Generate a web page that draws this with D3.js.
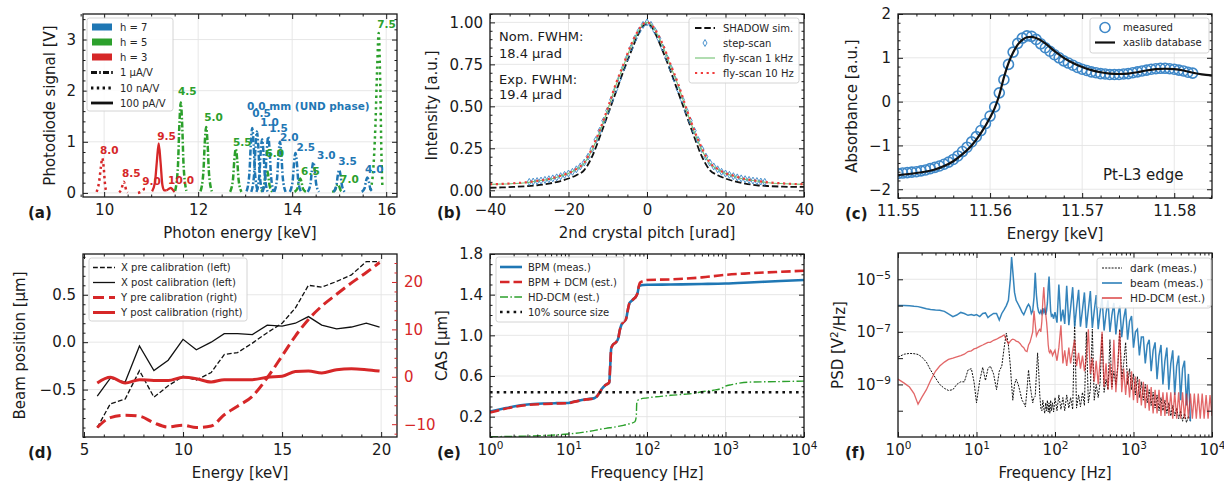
<!DOCTYPE html>
<html>
<head>
<meta charset="utf-8">
<title>DCM commissioning figure</title>
<script src="https://cdn.jsdelivr.net/npm/d3@7"></script>
<style>
  body { margin: 0; background: #fff; }
  svg text { font-family: "DejaVu Sans", sans-serif; }
</style>
</head>
<body>
<script>
// ---------------- data ----------------

// (a) undulator harmonic scans: [photon energy keV, photodiode V], one entry per UND phase
const harmH7 = [
  {phase: '0.0', gain: '1uA', pts: [[13.03,0.03],[13.09,0.38],[13.12,0.95],[13.15,1.27],[13.18,0.95],[13.21,0.38],[13.27,0.03]]},
  {phase: '0.5', gain: '1uA', pts: [[13.13,0.02],[13.19,0.36],[13.22,0.9],[13.25,1.2],[13.28,0.9],[13.31,0.36],[13.37,0.02]]},
  {phase: '1.0', gain: '1uA', pts: [[13.24,0.02],[13.30,0.32],[13.33,0.79],[13.36,1.05],[13.39,0.79],[13.42,0.32],[13.48,0.02]]},
  {phase: '1.5', gain: '1uA', pts: [[13.37,0.02],[13.43,0.33],[13.46,0.83],[13.49,1.1],[13.52,0.83],[13.55,0.33],[13.61,0.02]]},
  {phase: '2.0', gain: '1uA', pts: [[13.62,0.02],[13.68,0.3],[13.71,0.75],[13.74,1.0],[13.77,0.75],[13.80,0.3],[13.86,0.02]]},
  {phase: '2.5', gain: '1uA', pts: [[13.95,0.02],[14.01,0.23],[14.04,0.59],[14.07,0.78],[14.10,0.59],[14.13,0.23],[14.19,0.02]]},
  {phase: '3.0', gain: '1uA', pts: [[14.33,0.02],[14.39,0.18],[14.42,0.45],[14.45,0.6],[14.48,0.45],[14.51,0.18],[14.57,0.02]]},
  {phase: '3.5', gain: '1uA', pts: [[14.88,0.02],[14.94,0.14],[14.97,0.34],[15.0,0.45],[15.03,0.34],[15.06,0.14],[15.12,0.02]]},
  {phase: '4.0', gain: '1uA', pts: [[15.48,0.02],[15.54,0.09],[15.57,0.23],[15.6,0.3],[15.63,0.23],[15.66,0.09],[15.72,0.02]]}
];
const harmH5 = [
  {phase: '4.5', gain: '1uA', pts: [[11.51,0.04],[11.57,0.53],[11.60,1.33],[11.63,1.77],[11.66,1.33],[11.69,0.53],[11.75,0.04]]},
  {phase: '5.0', gain: '1uA', pts: [[12.05,0.03],[12.11,0.39],[12.14,0.97],[12.17,1.29],[12.20,0.97],[12.23,0.39],[12.29,0.03]]},
  {phase: '5.5', gain: '1uA', pts: [[12.68,0.02],[12.74,0.26],[12.77,0.65],[12.8,0.86],[12.83,0.65],[12.86,0.26],[12.92,0.02]]},
  {phase: '6.0', gain: '1uA', pts: [[13.34,0.02],[13.40,0.14],[13.43,0.34],[13.46,0.45],[13.49,0.34],[13.52,0.14],[13.58,0.02]]},
  {phase: '6.5', gain: '1uA', pts: [[14.05,0.02],[14.11,0.08],[14.14,0.21],[14.17,0.28],[14.20,0.21],[14.23,0.08],[14.29,0.02]]},
  {phase: '7.0', gain: '1uA', pts: [[14.85,0.02],[14.91,0.05],[14.94,0.13],[14.97,0.17],[15.0,0.13],[15.03,0.05],[15.09,0.02]]},
  {phase: '7.5', gain: '10nA', pts: [[15.66,0.05],[15.72,0.4],[15.77,1.3],[15.81,2.5],[15.84,3.13],[15.87,2.3],[15.9,0.7],[15.92,0.1]]}
];
const harmH3 = [
  {phase: '8.0', gain: '10nA', pts: [[9.84,0.02],[9.89,0.2],[9.93,0.5],[9.96,0.68],[9.99,0.5],[10.02,0.15],[10.05,0.02]]},
  {phase: '8.5', gain: '10nA', pts: [[10.32,0.01],[10.37,0.08],[10.40,0.18],[10.42,0.22],[10.44,0.17],[10.47,0.05],[10.5,0.01]]},
  {phase: '9.0', gain: '10nA', pts: [[10.72,0.0],[10.78,0.02],[10.83,0.06],[10.87,0.08],[10.9,0.04]]},
  {phase: '9.5', gain: '100pA', pts: [[11.02,0.03],[11.08,0.2],[11.12,0.6],[11.16,0.97],[11.2,0.6],[11.24,0.15],[11.28,0.05],[11.33,0.05]]},
  {phase: '10.0', gain: '100pA', pts: [[11.33,0.05],[11.38,0.08],[11.42,0.1],[11.46,0.06],[11.5,0.02]]}
];
// label anchors [keV, V] of the UND phase annotations
const labelsH7 = [['0.0 mm (UND phase)',13.04,1.71],['0.5',13.15,1.57],['1.0',13.32,1.39],['1.5',13.51,1.27],['2.0',13.74,1.1],
  ['2.5',14.09,0.9],['3.0',14.53,0.75],['3.5',14.98,0.63],['4.0',15.55,0.47]];
const labelsH5 = [['4.5',11.57,2.0],['5.0',12.13,1.49],['5.5',12.74,1.0],['6.0',13.43,0.78],['6.5',14.19,0.42],['7.0',15.02,0.27],['7.5',15.81,3.31]];
const labelsH3 = [['8.0',9.91,0.84],['8.5',10.38,0.39],['9.0',10.81,0.24],['9.5',11.13,1.12],['10.0',11.36,0.25]];

// (b) rocking curve of the 2nd crystal
const pitchGrid = [-40,-37,-34,-31,-28,-25,-22,-20,-18,-16,-14,-12,-10,-8,-6,-4,-2,-1,0,1,2,4,6,8,10,12,14,16,18,20,22,25,28,31,34,37,40];
const shadowSim = [0.015,0.017,0.02,0.024,0.03,0.04,0.055,0.07,0.09,0.12,0.2,0.32,0.45,0.58,0.71,0.83,0.94,0.98,0.99,0.98,0.94,0.83,0.71,0.58,0.45,0.32,0.2,0.12,0.09,0.07,0.055,0.04,0.03,0.025,0.022,0.02,0.02];
const fly1kHz = [0.035,0.037,0.04,0.045,0.055,0.065,0.085,0.1,0.125,0.16,0.24,0.35,0.48,0.62,0.74,0.86,0.955,0.99,1.0,0.99,0.955,0.86,0.74,0.62,0.48,0.35,0.24,0.16,0.125,0.1,0.085,0.065,0.055,0.045,0.04,0.037,0.035];
const fly10Hz = [0.036,0.038,0.042,0.047,0.056,0.067,0.087,0.102,0.127,0.165,0.25,0.36,0.49,0.63,0.75,0.87,0.96,0.99,1.0,0.99,0.96,0.87,0.75,0.63,0.49,0.36,0.25,0.165,0.127,0.102,0.087,0.067,0.056,0.047,0.042,0.038,0.036];
const stepPitch = [-30,-29,-28,-27,-26,-25,-24,-23,-22,-21,-20,-19,-18,-17,-16,-15,-14,-13,-12,-11,-10,-9,-8,-7,-6,-5,-4,-3,-2,-1,0,
  1,2,3,4,5,6,7,8,9,10,11,12,13,14,15,16,17,18,19,20,21,22,23,24,25,26,27,28,29,30];
const stepScan = [0.05,0.052,0.055,0.058,0.062,0.066,0.071,0.077,0.084,0.092,0.1,0.11,0.125,0.142,0.165,0.2,0.245,0.3,0.355,0.415,0.475,0.54,0.6,0.665,0.73,0.79,0.85,0.905,0.95,0.985,1.0,
  0.985,0.95,0.905,0.85,0.79,0.73,0.665,0.6,0.54,0.475,0.415,0.355,0.3,0.245,0.2,0.165,0.142,0.125,0.11,0.1,0.092,0.084,0.077,0.071,0.066,0.062,0.058,0.055,0.052,0.05];

// (c) Pt-L3 edge
const xasE = [11.550,11.552,11.554,11.555,11.556,11.557,11.558,11.559,11.560,11.5605,11.561,11.5615,11.562,11.5625,11.563,11.5635,11.564,11.5645,11.565,
  11.566,11.567,11.568,11.569,11.570,11.571,11.572,11.573,11.574,11.575,11.576,11.577,11.578,11.579,11.580,11.581,11.582,11.583,11.5841];
const xaslib = [-1.68,-1.63,-1.55,-1.47,-1.36,-1.2,-1.0,-0.72,-0.36,-0.15,0.15,0.55,0.88,1.12,1.3,1.41,1.47,1.48,1.45,
  1.33,1.15,1.0,0.88,0.79,0.72,0.67,0.64,0.63,0.64,0.67,0.71,0.74,0.75,0.74,0.71,0.66,0.62,0.6];
const measE = [11.5500,11.5505,11.5510,11.5515,11.5520,11.5525,11.5530,11.5535,11.5540,11.5545,11.5550,11.5555,11.5560,11.5565,11.5570,11.5575,
  11.5580,11.5585,11.5590,11.5595,11.5600,11.5605,11.5610,11.5615,11.5620,11.5625,11.5630,11.5635,11.5640,11.5645,11.5650,11.5655,
  11.5660,11.5665,11.5670,11.5675,11.5680,11.5685,11.5690,11.5695,11.5700,11.5705,11.5710,11.5715,11.5720,11.5725,11.5730,11.5735,
  11.5740,11.5745,11.5750,11.5755,11.5760,11.5765,11.5770,11.5775,11.5780,11.5785,11.5790,11.5795,11.5800,11.5805,11.5810,11.5815,11.5820];
const measAbs = [-1.64,-1.63,-1.62,-1.61,-1.6,-1.58,-1.56,-1.53,-1.5,-1.47,-1.43,-1.38,-1.32,-1.24,-1.14,-1.04,
  -0.92,-0.8,-0.66,-0.5,-0.33,-0.12,0.2,0.5,0.85,1.13,1.33,1.45,1.5,1.49,1.42,1.32,
  1.23,1.15,1.07,1.0,0.93,0.88,0.83,0.78,0.74,0.71,0.68,0.66,0.64,0.63,0.62,0.62,
  0.62,0.63,0.64,0.66,0.68,0.7,0.72,0.74,0.75,0.76,0.76,0.75,0.74,0.72,0.7,0.67,0.65];

// (d) beam position vs energy
const calEnergy = [5.67,6.33,7.08,7.8,8.53,9.25,10.0,10.67,11.42,12.08,12.75,13.5,14.25,15.0,15.67,16.33,17.0,17.75,18.5,19.25,19.92];
const xPre  = [-0.9,-0.65,-0.6,-0.3,-0.58,-0.46,-0.36,-0.4,-0.32,-0.13,-0.11,-0.01,0.1,0.2,0.36,0.6,0.58,0.64,0.71,0.85,0.85];
const xPost = [-0.57,-0.38,-0.42,-0.04,-0.3,-0.19,0.03,-0.08,0.0,0.09,0.09,0.08,0.18,0.17,0.2,0.27,0.18,0.14,0.16,0.2,0.16];
const yPre  = [-10.7,-8.6,-8.1,-8.3,-9.7,-10.6,-10.2,-10.7,-10.4,-8.0,-6.2,-4.1,-0.2,4.4,8.6,12.1,14.9,17.4,19.8,22.0,24.1];
const yPost = [-1.3,-0.1,-1.3,-0.6,-0.8,-0.8,-0.1,-0.4,-1.1,-0.6,-0.6,-0.6,-0.1,0.1,1.1,1.2,0.8,1.5,1.7,1.5,1.2];

// (e) cumulative amplitude spectra
const casFreq = [1,1.5,2,3,5,7,10,12,14,17,21,23,25,27,29,31,33,34,35,37,40,43,45,47,50,54,57,60,64,68,72,76,79,82,90,100,200,500,1000,2000,5000,10000];
const casBPM = [0.25,0.28,0.3,0.32,0.33,0.333,0.335,0.35,0.36,0.372,0.38,0.4,0.44,0.48,0.505,0.52,0.535,0.7,0.87,0.91,0.93,0.97,1.05,1.1,1.13,
  1.16,1.25,1.32,1.34,1.36,1.38,1.42,1.48,1.49,1.495,1.497,1.5,1.505,1.51,1.52,1.535,1.545];
const casBPMDCM = [0.24,0.275,0.295,0.315,0.325,0.33,0.333,0.348,0.358,0.37,0.378,0.4,0.44,0.48,0.505,0.52,0.535,0.7,0.87,0.91,0.93,0.97,1.05,1.1,1.13,
  1.16,1.25,1.32,1.34,1.36,1.38,1.42,1.49,1.52,1.535,1.545,1.55,1.57,1.595,1.61,1.625,1.635];
const hdFreq = [1,2,5,10,15,20,25,30,40,50,60,70,73,74,76,80,100,150,200,300,400,500,700,900,1000,1200,1500,2000,5000,10000];
const casHD = [0.003,0.006,0.015,0.03,0.045,0.06,0.075,0.085,0.1,0.115,0.13,0.15,0.2,0.33,0.36,0.37,0.385,0.4,0.41,0.42,0.43,0.445,0.46,0.48,0.5,0.515,0.53,0.54,0.545,0.55];
const sourceSize10 = 0.44;

// (f) power spectral densities, log10(PSD / V^2 Hz^-1)
const psdFreq = [1,1.2,1.4,1.6,1.8,2,2.3,2.6,3,3.4,3.9,4.4,5,5.6,6.3,7,7.8,8.6,9.3,10,11,12,13,14,15,16.5,18,19.5,21,22.5,24,25.5,27,28,29,30.5,
  32,34,36,38,40,42,44,46,48,50,52,54,56,58,60,62,64,66,68,70,72,74,76,78,80,82,84,86,88,90,93,96,
  100,106,112,119,126,133,141,150,158,168,178,188,200,211,224,237,251,266,282,299,316,335,355,376,398,422,447,473,501,531,562,596,631,668,
  708,750,794,841,891,944,1000,1059,1122,1189,1259,1334,1413,1496,1585,1679,1778,1884,1995,2113,2239,2371,2512,2661,2818,2985,3162,3350,
  3548,3758,3981,4217,4467,4732,5012,5309,5623,5957,6310,6683,7079,7499,7943,8414,8913,9441,10000];
const darkLow = [-7.96,-7.85,-7.82,-7.83,-7.86,-7.95,-8.15,-8.45,-8.75,-9.0,-9.15,-9.23,-9.2,-9.0,-8.9,-8.9,-8.45,-8.4,-8.9,-9.7,-8.85,-8.35,-8.85,-8.4,
  -8.3,-8.6,-9.2,-8.5,-8.3,-7.6,-7.05,-7.5,-8.3,-9.0,-9.6,-9.0,-8.8,-9.0,-9.3,-9.6,-9.7,-9.85,-9.2,-8.45,-9.0,-9.35,-9.7,-9.5,
  -9.45,-8.6,-7.8,-8.5,-9.4,-9.9,-10.0,-9.6,-9.9,-10.1,-9.7,-10.0,-9.6,-10.05,-9.7,-10.1,-9.6,-10.0,-9.7,-10.05];
const darkHigh = [-9.5,-10.0,-9.4,-9.95,-9.5,-10.0,-9.4,-9.9,-9.5,-9.95,-6.6,-9.9,-9.4,-9.85,-9.3,-9.8,-7.0,-9.7,-9.2,-6.9,
  -9.6,-9.0,-9.5,-8.9,-7.1,-9.3,-8.8,-9.2,-7.3,-9.1,-8.5,-9.0,-8.3,-6.9,-8.8,-8.2,-7.4,-9.0,-8.4,-9.2,
  -8.6,-9.4,-8.7,-9.5,-8.9,-9.6,-9.0,-9.7,-9.2,-9.8,-9.3,-9.9,-9.4,-10.0,-9.5,-10.0,-9.6,-10.1,-9.7,-10.2,
  -9.8,-10.2,-9.9,-10.3,-10.0,-10.4,-10.1,-10.45,-10.2,-10.4,null,null,null,null,null,null,null,null,null,null,null];
const beamLow = [-6.0,-6.0,-6.01,-6.03,-6.04,-6.07,-6.12,-6.15,-6.17,-6.18,-6.22,-6.32,-6.42,-6.36,-6.26,-6.3,-6.37,-6.34,-6.38,-6.34,-6.42,-6.3,-6.28,-6.46,
  -6.38,-6.3,-6.3,-6.55,-6.3,-6.15,-6.0,-5.8,-5.0,-4.15,-4.7,-5.5,-5.8,-5.95,-6.1,-6.25,-6.35,-6.2,-6.05,-5.95,-6.05,-6.3,-6.2,-5.7,
  -4.75,-5.6,-6.05,-6.25,-6.3,-6.2,-6.3,-6.1,-6.25,-6.15,-6.35,-6.2,-5.9,-5.3,-4.9,-5.6,-6.2,-6.4,-6.35,-6.5];
const beamHigh = [-6.25,-6.65,-5.2,-6.6,-6.15,-6.7,-5.25,-6.75,-6.1,-5.3,-6.8,-6.1,-5.4,-6.8,-6.15,-5.5,-6.85,-6.15,-5.45,-6.85,
  -6.2,-5.6,-6.9,-6.25,-5.7,-6.95,-6.3,-5.8,-7.0,-6.35,-5.9,-7.1,-6.4,-6.0,-7.2,-6.5,-6.1,-7.3,-6.6,-6.4,
  -7.6,-7.0,-6.9,-7.9,-7.2,-7.2,-8.2,-7.5,-7.3,-8.5,-7.7,-7.4,-8.8,-7.9,-7.5,-9.0,-8.1,-7.6,-9.2,-8.2,
  -7.7,-9.4,-8.3,-7.9,-9.6,-8.4,-8.1,-9.8,-8.6,-10.4,null,null,null,null,null,null,null,null,null,null,null];
const hdLow = [-8.8,-8.95,-9.1,-9.35,-9.75,-9.5,-9.2,-8.85,-8.5,-8.3,-8.15,-8.05,-8.0,-7.95,-7.9,-7.85,-7.75,-7.72,-7.65,-7.62,-7.55,-7.5,-7.45,-7.4,
  -7.4,-7.32,-7.28,-7.22,-7.17,-7.12,-7.3,-7.45,-7.35,-7.3,-7.28,-7.3,-7.35,-7.38,-7.45,-7.55,-7.6,-7.72,-7.75,-7.5,-7.4,-7.2,-7.0,-6.2,
  -6.7,-7.15,-7.05,-6.95,-6.9,-7.0,-6.6,-5.8,-5.3,-5.9,-6.3,-6.6,-7.0,-7.5,-7.75,-7.8,-7.7,-7.75,-7.9,-7.8];
const hdHigh = [-7.7,-8.1,-7.6,-6.75,-8.2,-7.7,-8.3,-7.6,-8.2,-7.7,-7.3,-8.3,-7.8,-8.4,-7.9,-8.5,-8.0,-6.9,-8.6,-8.0,
  -8.9,-8.1,-9.0,-8.1,-7.0,-9.1,-8.2,-9.2,-8.2,-9.2,-7.3,-9.3,-8.3,-6.95,-9.3,-8.4,-9.4,-8.5,-9.5,-8.5,
  -9.6,-8.7,-9.7,-8.8,-9.8,-8.9,-9.9,-9.0,-10.0,-9.1,-10.1,-9.2,-10.1,-9.2,-10.2,-9.3,-10.2,-9.3,-10.2,-9.3,
  -10.3,-9.3,-10.3,-9.3,-10.3,-9.3,-10.3,-9.35,-10.3,-9.35,-10.3,-9.35,-10.3,-9.35,-10.3,-9.35,-10.3,-9.4,-10.3,-9.4,-10.2];

// ---------------- drawing ----------------
const FONT = '"DejaVu Sans", sans-serif';
const BLUE = '#1f77b4', GREEN = '#2ca02c', RED = '#d62728', INK = '#1a1a1a';
const svg = d3.select('body').append('svg').attr('width', 1224).attr('height', 483);
let clipN = 0;

function minor(a, b, step, majors) {
  return d3.range(a, b + step / 2, step).map(v => +v.toFixed(6))
    .filter(v => !majors.some(m => Math.abs(m - v) < step / 10));
}
function logMinor() {
  const out = [];
  [1, 10, 100, 1000].forEach(p => d3.range(2, 10).forEach(k => out.push(k * p)));
  return out;
}
function supLabels(a) {
  a.selectAll('.tick text').each(function(d) {
    const t = d3.select(this), e = Math.round(Math.log10(d));
    t.text(null);
    t.append('tspan').text('10');
    t.append('tspan').attr('dy', '-0.5em').attr('font-size', '10.5px').text(d3.format('d')(e));
  });
}

function panel(box) {
  const g = svg.append('g');
  const id = 'clip' + (clipN++);
  g.append('clipPath').attr('id', id).append('rect')
    .attr('x', box.l).attr('y', box.t).attr('width', box.r - box.l).attr('height', box.b - box.t);
  return {
    grid: g.append('g'),
    data: g.append('g').attr('clip-path', `url(#${id})`),
    top: g.append('g')
  };
}

function axis(g, gen, tr, color) {
  const a = g.append('g').attr('transform', tr).call(gen);
  a.select('.domain').remove();
  a.attr('font-size', 15).attr('font-family', FONT);
  a.selectAll('line').attr('stroke', color).attr('stroke-width', 1);
  a.selectAll('text').attr('fill', color);
  return a;
}

function frame(p, box, x, y, o) {
  p.grid.selectAll('line.gx').data(o.xGrid || o.xMajor).join('line').attr('class', 'gx')
    .attr('x1', d => x(d)).attr('x2', d => x(d)).attr('y1', box.t).attr('y2', box.b)
    .attr('stroke', '#e4e4e4').attr('stroke-width', 0.9);
  p.grid.selectAll('line.gy').data(o.yGrid || o.yMajor).join('line').attr('class', 'gy')
    .attr('y1', d => y(d)).attr('y2', d => y(d)).attr('x1', box.l).attr('x2', box.r)
    .attr('stroke', '#e4e4e4').attr('stroke-width', 0.9);
  const g = p.top;
  const bx = axis(g, d3.axisBottom(x).tickValues(o.xMajor).tickSize(-5).tickPadding(7).tickFormat(o.xFmt || ''), `translate(0,${box.b})`, INK);
  axis(g, d3.axisBottom(x).tickValues(o.xMinor).tickSize(-2.5).tickFormat(''), `translate(0,${box.b})`, INK);
  axis(g, d3.axisTop(x).tickValues(o.xMajor).tickSize(-5).tickFormat(''), `translate(0,${box.t})`, INK);
  axis(g, d3.axisTop(x).tickValues(o.xMinor).tickSize(-2.5).tickFormat(''), `translate(0,${box.t})`, INK);
  const ly = axis(g, d3.axisLeft(y).tickValues(o.yMajor).tickSize(-5).tickPadding(7).tickFormat(o.yFmt || ''), `translate(${box.l},0)`, INK);
  axis(g, d3.axisLeft(y).tickValues(o.yMinor).tickSize(o.yMinorLen || -2.5).tickFormat(''), `translate(${box.l},0)`, INK);
  if (!o.noRight) {
    axis(g, d3.axisRight(y).tickValues(o.yMajor).tickSize(-5).tickFormat(''), `translate(${box.r},0)`, INK);
    axis(g, d3.axisRight(y).tickValues(o.yMinor).tickSize(o.yMinorLen || -2.5).tickFormat(''), `translate(${box.r},0)`, INK);
  }
  if (o.xSup) supLabels(bx);
  if (o.ySup) supLabels(ly);
  g.append('rect').attr('x', box.l).attr('y', box.t).attr('width', box.r - box.l).attr('height', box.b - box.t)
    .attr('fill', 'none').attr('stroke', INK).attr('stroke-width', 1.3);
}

function titles(box, xt, yt, yx, letter) {
  const cx = (box.l + box.r) / 2, cy = (box.t + box.b) / 2;
  svg.append('text').attr('x', cx).attr('y', box.b + 41).attr('text-anchor', 'middle')
    .attr('font-size', 15).attr('fill', INK).text(xt);
  const ty = svg.append('text').attr('transform', `translate(${yx},${cy}) rotate(-90)`).attr('text-anchor', 'middle')
    .attr('dominant-baseline', 'central').attr('font-size', 15).attr('fill', INK);
  if (Array.isArray(yt)) {
    ty.append('tspan').text(yt[0]);
    ty.append('tspan').attr('dy', '-0.4em').attr('font-size', '10.5px').text(yt[1]);
    ty.append('tspan').attr('dy', '0.4em').text(yt[2]);
  } else ty.text(yt);
  svg.append('text').attr('x', letter[0]).attr('y', box.b + 16).attr('dominant-baseline', 'central')
    .attr('font-size', 15).attr('font-weight', 'bold').attr('fill', INK).text(letter[1]);
}

function legendBox(x, y, w, h) {
  svg.append('rect').attr('x', x).attr('y', y).attr('width', w).attr('height', h).attr('rx', 2.5)
    .attr('fill', '#fff').attr('fill-opacity', 0.85).attr('stroke', '#cfcfcf').attr('stroke-width', 0.9);
}
function legendText(x, y, t, size) {
  svg.append('text').attr('x', x).attr('y', y).attr('dominant-baseline', 'central')
    .attr('font-size', size || 10).attr('fill', '#262626').text(t);
}
function legendLine(x1, x2, y, color, width, dash) {
  svg.append('line').attr('x1', x1).attr('x2', x2).attr('y1', y).attr('y2', y)
    .attr('stroke', color).attr('stroke-width', width).attr('stroke-dasharray', dash || null);
}

const gainDash = {'1uA': '6,2.2,1.6,2.2', '10nA': '2.4,3.4', '100pA': null};

// ---------- (a) ----------
const boxA = {l: 83, t: 14, r: 397, b: 197};
const xA = d3.scaleLinear().domain([9.55, 16.23]).range([boxA.l, boxA.r]);
const yA = d3.scaleLinear().domain([-0.08, 3.5]).range([boxA.b, boxA.t]);
const pA = panel(boxA);
frame(pA, boxA, xA, yA, {
  xMajor: [10, 12, 14, 16], xMinor: minor(9.5, 16, 0.5, [10, 12, 14, 16]), xFmt: d3.format('d'),
  yMajor: [0, 1, 2, 3], yMinor: minor(0, 3.4, 0.2, [0, 1, 2, 3]), yFmt: d3.format('d')
});
const lineA = d3.line().x(d => xA(d[0])).y(d => yA(d[1])).curve(d3.curveMonotoneX);
[[harmH3, RED], [harmH5, GREEN], [harmH7, BLUE]].forEach(([set, col]) => {
  pA.data.selectAll(null).data(set).join('path')
    .attr('d', d => lineA(d.pts)).attr('fill', 'none').attr('stroke', col)
    .attr('stroke-width', d => d.gain === '100pA' ? 2.3 : 2.5)
    .attr('stroke-dasharray', d => gainDash[d.gain]);
});
[[labelsH3, RED], [labelsH5, GREEN], [labelsH7, BLUE]].forEach(([set, col]) => {
  svg.selectAll(null).data(set).join('text')
    .attr('x', d => xA(d[1])).attr('y', d => yA(d[2])).attr('dominant-baseline', 'central')
    .attr('font-size', 10.5).attr('font-weight', 'bold').attr('fill', col).text(d => d[0]);
});
titles(boxA, 'Photon energy [keV]', 'Photodiode signal [V]', 50, [28, '(a)']);
legendBox(87, 18, 86, 93);
[[BLUE, 'h = 7', 27], [GREEN, 'h = 5', 42], [RED, 'h = 3', 57]].forEach(([c, t, yy]) => {
  svg.append('rect').attr('x', 92).attr('y', yy - 3.5).attr('width', 20).attr('height', 7).attr('fill', c);
  legendText(120, yy, t);
});
[['1uA', '1 µA/V', 72.5], ['10nA', '10 nA/V', 88], ['100pA', '100 pA/V', 103]].forEach(([k, t, yy]) => {
  legendLine(91, 113, yy, '#111', 2.8, gainDash[k]);
  legendText(120, yy, t);
});

// ---------- (b) ----------
const boxB = {l: 490, t: 14, r: 804, b: 197};
const xB = d3.scaleLinear().domain([-40, 40]).range([boxB.l, boxB.r]);
const yB = d3.scaleLinear().domain([-0.04, 1.05]).range([boxB.b, boxB.t]);
const pB = panel(boxB);
frame(pB, boxB, xB, yB, {
  xMajor: [-40, -20, 0, 20, 40], xMinor: minor(-40, 40, 5, [-40, -20, 0, 20, 40]), xFmt: d3.format('d'),
  yMajor: [0, 0.25, 0.5, 0.75, 1.0], yMinor: minor(0, 1.05, 0.05, [0, 0.25, 0.5, 0.75, 1.0]), yFmt: d3.format('.2f')
});
const lineB = d3.line().x(d => xB(d[0])).y(d => yB(d[1])).curve(d3.curveMonotoneX);
pB.data.append('path').attr('d', lineB(d3.zip(pitchGrid, shadowSim))).attr('fill', 'none')
  .attr('stroke', '#111').attr('stroke-width', 1.8).attr('stroke-dasharray', '6.5,2.8');
pB.data.selectAll(null).data(d3.zip(stepPitch, stepScan)).join('path')
  .attr('transform', d => `translate(${xB(d[0])},${yB(d[1])})`)
  .attr('d', d3.symbol(d3.symbolDiamond, 14)).attr('fill', 'none').attr('stroke', '#3a88c8').attr('stroke-width', 0.9);
pB.data.append('path').attr('d', lineB(d3.zip(pitchGrid, fly1kHz))).attr('fill', 'none')
  .attr('stroke', '#72c272').attr('stroke-width', 1.1);
pB.data.append('path').attr('d', lineB(d3.zip(pitchGrid, fly10Hz))).attr('fill', 'none')
  .attr('stroke', '#f03c3c').attr('stroke-width', 2.2).attr('stroke-dasharray', '2.2,3.6');
[['Nom. FWHM:', 36], ['18.4 µrad', 53], ['Exp. FWHM:', 79], ['19.4 µrad', 94]].forEach(([t, yy]) => {
  svg.append('text').attr('x', 499).attr('y', yy).attr('dominant-baseline', 'central')
    .attr('font-size', 13).attr('fill', INK).text(t);
});
titles(boxB, '2nd crystal pitch [urad]', 'Intensity [a.u.]', 432, [437, '(b)']);
legendBox(689, 18, 110, 65);
legendLine(695, 715, 28, '#111', 1.8, '6.5,2.8'); legendText(723, 28, 'SHADOW sim.');
svg.append('path').attr('transform', 'translate(705,43)').attr('d', d3.symbol(d3.symbolDiamond, 14))
  .attr('fill', 'none').attr('stroke', '#3a88c8').attr('stroke-width', 0.9);
legendText(723, 43, 'step-scan');
legendLine(695, 715, 58, '#72c272', 1.1); legendText(723, 58, 'fly-scan 1 kHz');
legendLine(695, 715, 73, '#f03c3c', 2.2, '2.2,3.6'); legendText(723, 73, 'fly-scan 10 Hz');

// ---------- (c) ----------
const boxC = {l: 898, t: 14, r: 1212, b: 198};
const xC = d3.scaleLinear().domain([11.55, 11.5841]).range([boxC.l, boxC.r]);
const yC = d3.scaleLinear().domain([-2.2, 2.0]).range([boxC.b, boxC.t]);
const pC = panel(boxC);
const cMaj = [11.55, 11.56, 11.57, 11.58];
frame(pC, boxC, xC, yC, {
  xMajor: cMaj, xMinor: minor(11.55, 11.584, 0.002, cMaj), xFmt: d3.format('.2f'),
  yMajor: [-2, -1, 0, 1, 2], yMinor: minor(-2.2, 2, 0.2, [-2, -1, 0, 1, 2]), yFmt: d3.format('d')
});
pC.data.selectAll(null).data(d3.zip(measE, measAbs)).join('circle')
  .attr('cx', d => xC(d[0])).attr('cy', d => yC(d[1])).attr('r', 5)
  .attr('fill', 'none').attr('stroke', '#3f88c8').attr('stroke-width', 1.6);
pC.data.append('path')
  .attr('d', d3.line().x(d => xC(d[0])).y(d => yC(d[1])).curve(d3.curveMonotoneX)(d3.zip(xasE, xaslib)))
  .attr('fill', 'none').attr('stroke', '#111').attr('stroke-width', 2.2);
svg.append('text').attr('x', 1103).attr('y', 175).attr('dominant-baseline', 'central')
  .attr('font-size', 15).attr('fill', INK).text('Pt-L3 edge');
titles(boxC, 'Energy [keV]', 'Absorbance [a.u.]', 852, [845, '(c)']);
legendBox(1090, 18, 119, 35);
svg.append('circle').attr('cx', 1105).attr('cy', 27.5).attr('r', 5).attr('fill', 'none')
  .attr('stroke', '#3f88c8').attr('stroke-width', 1.6);
legendText(1123, 27.5, 'measured');
legendLine(1095, 1115, 42.5, '#111', 2.2); legendText(1123, 42.5, 'xaslib database');

// ---------- (d) ----------
const boxD = {l: 83, t: 254, r: 397, b: 437};
const xD = d3.scaleLinear().domain([4.95, 20.8]).range([boxD.l, boxD.r]);
const yD = d3.scaleLinear().domain([-1.0, 0.93]).range([boxD.b, boxD.t]);
const yD2 = d3.scaleLinear().domain([-12.7, 25.9]).range([boxD.b, boxD.t]);
const pD = panel(boxD);
frame(pD, boxD, xD, yD, {
  xMajor: [5, 10, 15, 20], xMinor: minor(5, 20, 1, [5, 10, 15, 20]), xFmt: d3.format('d'),
  yMajor: [-0.5, 0, 0.5], yMinor: minor(-1.0, 0.9, 0.1, [-0.5, 0, 0.5]), yFmt: d3.format('.1f'), noRight: true
});
axis(pD.top, d3.axisRight(yD2).tickValues([-10, 0, 10, 20]).tickSize(-5).tickPadding(7).tickFormat(d3.format('d')),
  `translate(${boxD.r},0)`, RED);
axis(pD.top, d3.axisRight(yD2).tickValues(minor(-12, 24, 2, [-10, 0, 10, 20])).tickSize(-2.5).tickFormat(''),
  `translate(${boxD.r},0)`, RED);
const lineDL = d3.line().x(d => xD(d[0])).y(d => yD(d[1]));
const lineDR = d3.line().x(d => xD(d[0])).y(d => yD2(d[1])).curve(d3.curveMonotoneX);
pD.data.append('path').attr('d', lineDL(d3.zip(calEnergy, xPre))).attr('fill', 'none')
  .attr('stroke', '#111').attr('stroke-width', 1.3).attr('stroke-dasharray', '4.8,2.2');
pD.data.append('path').attr('d', lineDL(d3.zip(calEnergy, xPost))).attr('fill', 'none')
  .attr('stroke', '#111').attr('stroke-width', 1.3);
pD.data.append('path').attr('d', lineDR(d3.zip(calEnergy, yPre))).attr('fill', 'none')
  .attr('stroke', RED).attr('stroke-width', 3).attr('stroke-dasharray', '11,5');
pD.data.append('path').attr('d', lineDR(d3.zip(calEnergy, yPost))).attr('fill', 'none')
  .attr('stroke', RED).attr('stroke-width', 3);
titles(boxD, 'Energy [keV]', 'Beam position [µm]', 20, [28, '(d)']);
legendBox(89, 258, 158, 63);
legendLine(93, 115, 267.5, '#111', 1.3, '4.8,2.2'); legendText(121, 267.5, 'X pre calibration (left)');
legendLine(93, 115, 282.5, '#111', 1.3); legendText(121, 282.5, 'X post calibration (left)');
legendLine(93, 115, 297.5, RED, 3, '11,5'); legendText(121, 297.5, 'Y pre calibration (right)');
legendLine(93, 115, 312.5, RED, 3); legendText(121, 312.5, 'Y post calibration (right)');

// ---------- (e) ----------
const boxE = {l: 490, t: 254, r: 804, b: 437};
const xE = d3.scaleLog().domain([1, 1e4]).range([boxE.l, boxE.r]);
const yE = d3.scaleLinear().domain([0, 1.8]).range([boxE.b, boxE.t]);
const pE = panel(boxE);
const eMaj = [0.2, 0.6, 1.0, 1.4, 1.8];
frame(pE, boxE, xE, yE, {
  xMajor: [1, 10, 100, 1000, 10000], xMinor: logMinor(), xFmt: d => d, xSup: true,
  yMajor: eMaj, yMinor: minor(0, 1.8, 0.1, eMaj), yFmt: d3.format('.1f')
});
const lineE = d3.line().x(d => xE(d[0])).y(d => yE(d[1])).curve(d3.curveMonotoneX);
pE.data.append('path').attr('d', lineE(d3.zip(casFreq, casBPM))).attr('fill', 'none')
  .attr('stroke', BLUE).attr('stroke-width', 2.6);
pE.data.append('path').attr('d', lineE(d3.zip(casFreq, casBPMDCM))).attr('fill', 'none')
  .attr('stroke', RED).attr('stroke-width', 2.6).attr('stroke-dasharray', '9.5,4');
pE.data.append('path').attr('d', lineE(d3.zip(hdFreq, casHD))).attr('fill', 'none')
  .attr('stroke', GREEN).attr('stroke-width', 1.4).attr('stroke-dasharray', '8,2.4,1.5,2.4');
pE.data.append('line').attr('x1', xE(1)).attr('x2', xE(1e4)).attr('y1', yE(sourceSize10)).attr('y2', yE(sourceSize10))
  .attr('stroke', '#111').attr('stroke-width', 2.6).attr('stroke-dasharray', '2.6,4.2');
titles(boxE, 'Frequency [Hz]', 'CAS [µm]', 442, [437, '(e)']);
legendBox(496, 257, 128, 65);
legendLine(500, 522, 267, BLUE, 2.6); legendText(528, 267, 'BPM (meas.)');
legendLine(500, 522, 282, RED, 2.6, '9.5,4'); legendText(528, 282, 'BPM + DCM (est.)');
legendLine(500, 522, 297, GREEN, 1.4, '8,2.4,1.5,2.4'); legendText(528, 297, 'HD-DCM (est.)');
legendLine(500, 522, 312, '#111', 2.6, '2.6,4.2'); legendText(528, 312, '10% source size');

// ---------- (f) ----------
const boxF = {l: 898, t: 253, r: 1212, b: 437};
const xF = d3.scaleLog().domain([1, 1e4]).range([boxF.l, boxF.r]);
const yF = d3.scaleLog().domain([1e-11, 1e-4]).range([boxF.b, boxF.t]);
const pF = panel(boxF);
frame(pF, boxF, xF, yF, {
  xMajor: [1, 10, 100, 1000, 10000], xMinor: logMinor(), xFmt: d => d, xSup: true,
  yMajor: [1e-9, 1e-7, 1e-5], yMinor: [1e-10, 1e-8, 1e-6], yMinorLen: -5, yFmt: d => d, ySup: true
});
const lineF = d3.line().defined(d => d[1] != null).x(d => xF(d[0])).y(d => yF(Math.pow(10, d[1])));
pF.data.append('path').attr('d', lineF(d3.zip(psdFreq, darkLow.concat(darkHigh)))).attr('fill', 'none')
  .attr('stroke', '#111').attr('stroke-width', 1.0).attr('stroke-dasharray', '2,1.2');
pF.data.append('path').attr('d', lineF(d3.zip(psdFreq, beamLow.concat(beamHigh)))).attr('fill', 'none')
  .attr('stroke', BLUE).attr('stroke-width', 1.5).attr('stroke-opacity', 0.9);
pF.data.append('path').attr('d', lineF(d3.zip(psdFreq, hdLow.concat(hdHigh)))).attr('fill', 'none')
  .attr('stroke', RED).attr('stroke-width', 1.3).attr('stroke-opacity', 0.7);
titles(boxF, 'Frequency [Hz]', ['PSD [V', '2', '/Hz]'], 838, [845, '(f)']);
legendBox(1097, 258, 114, 50);
legendLine(1102, 1122, 268, '#111', 1.0, '2,1.2'); legendText(1130, 268, 'dark (meas.)', 10.5);
legendLine(1102, 1122, 283, BLUE, 1.5); legendText(1130, 283, 'beam (meas.)', 10.5);
legendLine(1102, 1122, 298, RED, 1.3); legendText(1130, 298, 'HD-DCM (est.)', 10.5);
</script>
</body>
</html>
